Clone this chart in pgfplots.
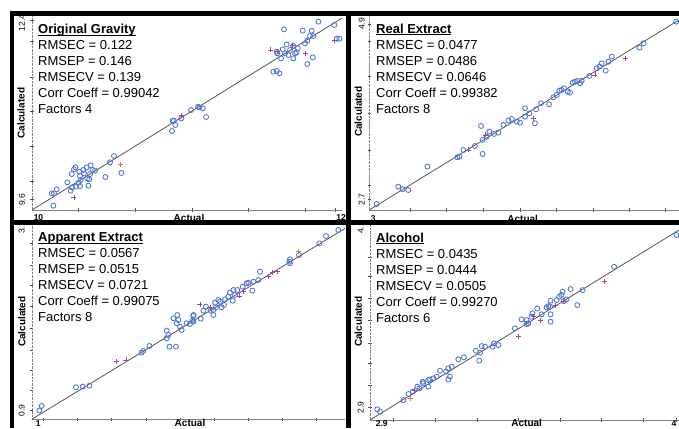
\documentclass[border=0pt]{standalone}
\usepackage{fontspec}
\setmainfont{Liberation Sans}
\usepackage{pgfplots}
\pgfplotsset{compat=1.18}

\definecolor{calblue}{HTML}{4F74D0}
\definecolor{valpurple}{HTML}{A2409C}
\definecolor{valorange}{HTML}{EE6A3C}
\definecolor{fitgray}{HTML}{555555}

% underline with a slightly heavier rule
\newcommand\ul[1]{\setbox0\hbox{#1}\rlap{\rule[-2pt]{\wd0}{0.9pt}}\box0}

\pgfplotsset{
  panel/.style={
    scale only axis, anchor=south west, clip=false,
    axis x line*=bottom, axis y line*=left,
    x axis line style={gray, -},
    y axis line style={gray, densely dotted, -},
    xticklabels={}, yticklabels={},
    major tick length=3.5pt, tick align=center,
    tick style={gray!60!black, thin},
  },
  cal/.style={only marks, mark=o, mark size=2.5pt, calblue, mark options={line width=0.85pt}},
  valp/.style={only marks, mark=+, mark size=2.5pt, valpurple, mark options={line width=0.85pt}},
  valo/.style={only marks, mark=+, mark size=2.5pt, valorange, mark options={line width=0.85pt}},
  fit/.style={fitgray, line width=0.8pt},
}
\newcommand\stats{\fontsize{13}{16}\selectfont}
\newcommand\tl{\fontsize{8.5}{9}\selectfont}
\newcommand\al{\fontsize{10}{11}\selectfont\bfseries}

\begin{document}
\begin{tikzpicture}
\useasboundingbox (0pt,0pt) rectangle (679pt,428pt);
\clip (0pt,0pt) rectangle (679pt,428pt);

% ---- Original Gravity
\begin{axis}[panel, at={(32pt,218pt)}, width=310pt, height=194pt,
  xmin=10, xmax=12.046, ymin=9.427, ymax=12.463,
  xtick={10.306,10.680,11.054,11.428,11.802,12.0},
  ytick={9.6,9.870,10.418,10.966,11.513,12.061,12.4}]
\addplot[fit] coordinates {(10,9.427) (12.046,12.43)};
\addplot[cal] coordinates {
 (11.663,12.254) (11.890,12.374) (11.996,12.322) (11.787,12.233) (11.846,12.233)
 (11.835,12.150) (11.857,12.150) (11.817,12.077) (11.802,12.035) (11.681,12.019)
 (11.655,11.941) (11.725,11.993) (11.703,11.931) (11.754,11.957) (11.615,11.904)
 (11.619,11.878) (11.670,11.878) (11.692,11.852) (11.736,11.878) (11.747,11.894)
 (11.725,11.800) (11.644,11.800) (11.853,11.816) (11.817,11.711) (11.593,11.591)
 (11.615,11.602) (11.633,11.565) (12.029,12.108) (12.011,12.108)
 (10.928,10.825) (10.937,10.825) (10.946,10.757) (10.986,10.861) (10.924,10.663)
 (11.050,10.992) (11.096,11.044) (11.127,11.018) (11.149,10.882) (11.105,11.033)
 (10.541,10.272) (10.515,10.173) (10.590,10.006) (10.484,9.943) (10.387,10.126)
 (10.400,10.053) (10.361,10.094) (10.339,10.053) (10.312,10.027) (10.286,10.094)
 (10.277,10.063) (10.262,9.990) (10.317,9.959) (10.343,10.000) (10.365,9.922)
 (10.383,9.990) (10.416,10.042) (10.308,9.854) (10.317,9.802) (10.290,9.792)
 (10.264,9.781) (10.255,9.729) (10.233,9.860) (10.372,9.807) (10.163,9.750)
 (10.130,9.687) (10.145,9.687) (10.141,9.494) (10.321,9.896) (10.378,9.907)};
\addplot[valp] coordinates {(11.575,11.931) (11.721,12.009) (11.806,11.878)
 (11.996,12.087) (11.619,11.904) (10.988,10.913) (10.277,9.625)};
\addplot[valo] coordinates {(10.585,10.146)};
\end{axis}

% ---- Real Extract
\begin{axis}[panel, at={(369.3pt,218pt)}, width=309.7pt, height=194pt,
  xmin=3, xmax=4.935, ymin=2.566, ymax=5.0,
  xtick={3.254,3.483,3.713,3.942,4.167,4.400,4.625,4.848},
  ytick={2.7,2.879,3.319,3.779,4.239,4.678,4.9}]
\addplot[fit] coordinates {(3,2.566) (4.935,4.950)};
\addplot[cal] coordinates {
 (4.917,4.929) (4.713,4.657) (4.688,4.603) (4.515,4.490) (4.494,4.427)
 (4.477,4.314) (4.452,4.406) (4.438,4.365) (4.421,4.344) (4.375,4.248)
 (4.327,4.189) (4.317,4.156) (4.300,4.185) (4.285,4.176) (4.271,4.164)
 (4.254,4.038) (4.240,4.051) (4.217,4.093) (4.202,4.072) (4.188,4.064)
 (4.171,4.009) (4.150,3.980) (4.123,3.892) (4.073,3.905) (4.042,3.829)
 (4.000,3.779) (3.973,3.737) (3.973,3.842) (4.035,3.654) (3.942,3.662)
 (3.921,3.675) (3.890,3.708) (3.869,3.687) (3.838,3.633) (3.806,3.537)
 (3.779,3.520) (3.750,3.549) (3.733,3.486) (3.708,3.445) (3.698,3.620)
 (3.708,3.269) (3.660,3.369) (3.588,3.319) (3.563,3.235) (3.550,3.227)
 (3.363,3.110) (3.181,2.859) (3.208,2.826) (3.244,2.817) (3.046,2.642)};
\addplot[valp] coordinates {(4.598,4.469) (4.410,4.260) (4.025,3.716)
 (3.723,3.507) (3.619,3.319)};
\end{axis}

% ---- Apparent Extract
\begin{axis}[panel, at={(31.7pt,8.7pt)}, width=313.3pt, height=194.3pt,
  xmin=1, xmax=3.1, ymin=0.792, ymax=3.204,
  xtick={1.078,1.307,1.536,1.765,1.994,2.223,2.452,2.681,2.910},
  ytick={0.9,1.156,1.405,1.653,1.921,2.190,2.459,2.707,2.976}]
\addplot[fit] coordinates {(1,0.792) (3.1,3.162)};
\addplot[cal] coordinates {
 (3.055,3.142) (2.973,3.067) (2.928,2.976) (2.792,2.831) (2.731,2.778)
 (2.731,2.728) (2.727,2.749) (2.530,2.625) (2.519,2.521) (2.486,2.500)
 (2.441,2.480) (2.452,2.488) (2.479,2.389) (2.414,2.438) (2.378,2.397)
 (2.363,2.335) (2.352,2.397) (2.329,2.364) (2.318,2.314) (2.296,2.281)
 (2.347,2.265) (2.262,2.252) (2.251,2.273) (2.235,2.182) (2.218,2.149)
 (2.229,2.240) (2.168,2.190) (2.200,2.141) (2.151,2.141) (2.133,2.041)
 (2.218,2.087) (2.273,2.182) (2.289,2.211) (2.084,2.075) (2.079,2.017)
 (2.061,1.975) (2.084,2.087) (1.994,1.942) (2.005,1.901) (1.972,1.984)
 (1.983,2.025) (1.950,2.046) (1.976,2.087) (1.905,1.893) (1.916,1.839)
 (1.905,1.797) (1.923,1.694) (1.967,1.694) (1.789,1.702) (1.748,1.640)
 (1.737,1.620) (1.387,1.210) (1.342,1.198) (1.297,1.189) (1.067,0.958)
 (1.051,0.900) (2.084,2.004) (2.039,1.984)};
\addplot[valp] coordinates {(2.647,2.625) (2.615,2.612) (2.586,2.562)
 (2.419,2.376) (2.390,2.323) (2.128,2.223) (1.632,1.529) (1.570,1.508) (2.195,2.182)};
\addplot[valo] coordinates {(2.787,2.873)};
\end{axis}

% ---- Alcohol
\begin{axis}[panel, at={(370pt,8pt)}, width=309pt, height=195pt,
  xmin=2.9, xmax=4.009, ymin=2.808, ymax=4.159,
  xtick={2.984,3.133,3.283,3.432,3.582,3.731,3.881,4.0},
  ytick={2.9,3.050,3.200,3.339,3.500,3.651,3.801,3.939}]
\addplot[fit] coordinates {(2.9,2.808) (4.009,4.124)};
\addplot[cal] coordinates {
 (4.000,4.089) (3.776,3.870) (3.663,3.708) (3.620,3.715) (3.644,3.604)
 (3.591,3.697) (3.587,3.674) (3.579,3.662) (3.605,3.644) (3.595,3.632)
 (3.570,3.639) (3.548,3.634) (3.546,3.593) (3.540,3.597) (3.534,3.588)
 (3.548,3.540) (3.548,3.489) (3.516,3.540) (3.500,3.581) (3.483,3.547)
 (3.480,3.524) (3.462,3.500) (3.444,3.505) (3.468,3.477) (3.462,3.473)
 (3.420,3.443) (3.345,3.339) (3.361,3.327) (3.340,3.316) (3.313,3.316)
 (3.301,3.320) (3.280,3.288) (3.295,3.274) (3.292,3.219) (3.237,3.242)
 (3.217,3.228) (3.193,3.177) (3.181,3.166) (3.173,3.143) (3.181,3.089)
 (3.187,3.108) (3.151,3.149) (3.139,3.108) (3.127,3.096) (3.109,3.085)
 (3.115,3.089) (3.091,3.062) (3.109,3.039) (3.089,3.073) (3.077,3.027)
 (3.070,3.039) (3.053,3.004) (3.038,2.988) (3.020,2.946) (2.926,2.882)
 (2.936,2.865)};
\addplot[valp] coordinates {(3.740,3.771) (3.432,3.385) (3.512,3.500)
 (3.564,3.604) (3.594,3.627) (3.061,3.015) (3.486,3.524)};
\addplot[valo] coordinates {(3.044,2.958)};
\end{axis}

% ---- text blocks
\node[anchor=north west, inner sep=0pt, align=left, font=\stats] at (38pt,404pt)
 {\textbf{\ul{Original Gravity}}\\RMSEC = 0.122\\RMSEP = 0.146\\RMSECV = 0.139\\Corr Coeff = 0.99042\\Factors 4};
\node[anchor=north west, inner sep=0pt, align=left, font=\stats] at (376pt,404.5pt)
 {\textbf{\ul{Real Extract}}\\RMSEC = 0.0477\\RMSEP = 0.0486\\RMSECV = 0.0646\\Corr Coeff = 0.99382\\Factors 8};
\node[anchor=north west, inner sep=0pt, align=left, font=\stats] at (38pt,195.3pt)
 {\textbf{\ul{Apparent Extract}}\\RMSEC = 0.0567\\RMSEP = 0.0515\\RMSECV = 0.0721\\Corr Coeff = 0.99075\\Factors 8};
\node[anchor=north west, inner sep=0pt, align=left, font=\stats] at (376pt,195.3pt)
 {\textbf{\ul{Alcohol}}\\RMSEC = 0.0435\\RMSEP = 0.0444\\RMSECV = 0.0505\\Corr Coeff = 0.99270\\Factors 6};

% ---- axis labels and end tick labels
\foreach \x/\y in {21/315, 358.3/316.3, 21.7/106.3, 358.3/106.3}
  \node[rotate=90, font=\al, inner sep=0pt] at (\x pt,\y pt) {Calculated};
\foreach \x/\y in {189/210, 522.7/209.5, 190/4.6, 526.7/4.6}
  \node[font=\al, inner sep=0pt] at (\x pt,\y pt) {Actual};
\node[rotate=90, font=\tl, inner sep=0pt] at (22pt,405pt) {12.4};
\node[rotate=90, font=\tl, inner sep=0pt] at (22pt,228pt) {9.6};
\node[rotate=90, font=\tl, inner sep=0pt] at (361.7pt,404pt) {4.9};
\node[rotate=90, font=\tl, inner sep=0pt] at (361.7pt,228.7pt) {2.7};
\node[rotate=90, font=\tl, inner sep=0pt] at (21.7pt,200pt) {3.1};
\node[rotate=90, font=\tl, inner sep=0pt] at (21.7pt,17.3pt) {0.9};
\node[rotate=90, font=\tl, inner sep=0pt] at (360.7pt,200pt) {4.1};
\node[rotate=90, font=\tl, inner sep=0pt] at (360.7pt,20.7pt) {2.9};
\node[font=\tl\bfseries, inner sep=0pt] at (38.5pt,210pt) {10};
\node[font=\tl\bfseries, inner sep=0pt] at (341pt,210pt) {12};
\node[font=\tl\bfseries, inner sep=0pt] at (373.3pt,209.7pt) {3};
\node[font=\tl\bfseries, inner sep=0pt] at (38.3pt,4.3pt) {1};
\node[font=\tl\bfseries, inner sep=0pt] at (381.7pt,4.3pt) {2.9};
\node[font=\tl\bfseries, inner sep=0pt] at (674pt,4.3pt) {4};

% ---- panel frames
\fill[black] (10pt,0pt) rectangle (14pt,417pt);
\fill[black] (10pt,412pt) rectangle (679pt,417pt);
\fill[black] (346pt,0pt) rectangle (351pt,417pt);
\fill[black] (10pt,203pt) rectangle (679pt,208pt);
\end{tikzpicture}
\end{document}
